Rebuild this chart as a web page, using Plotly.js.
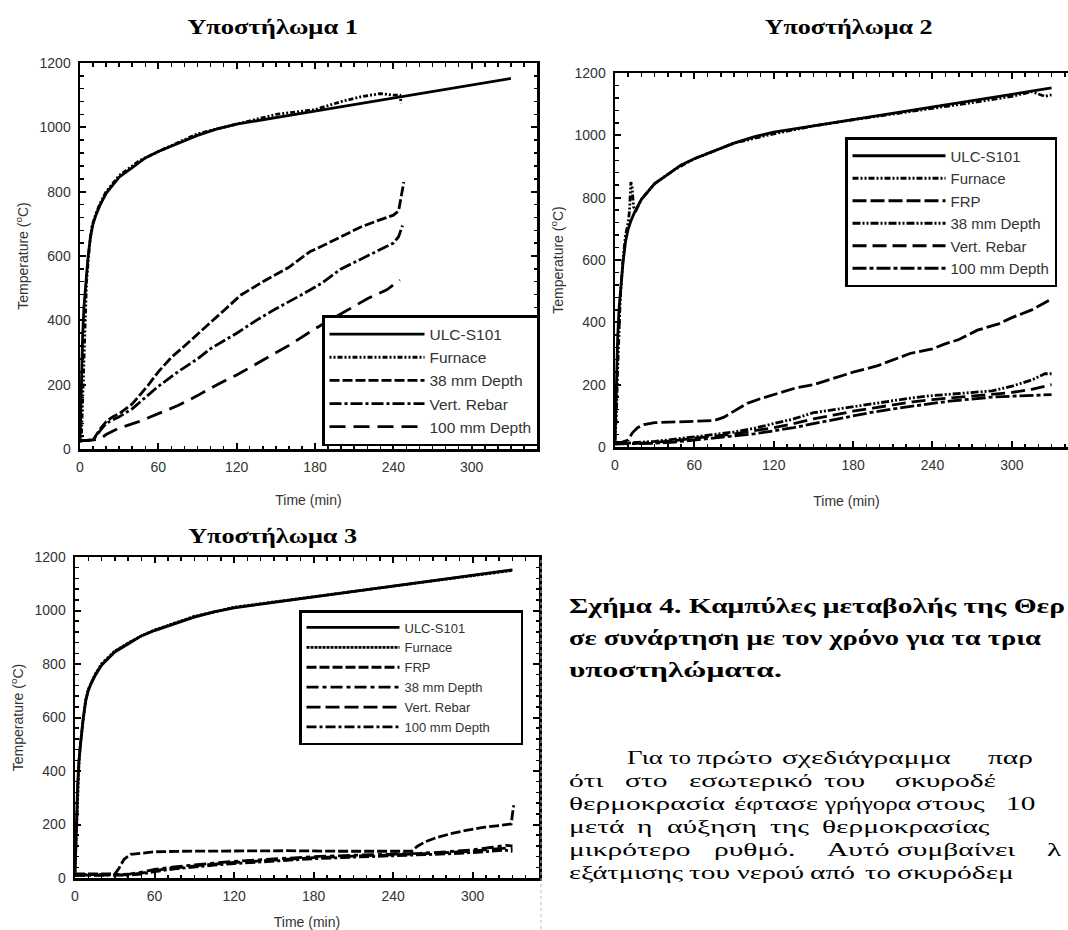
<!DOCTYPE html>
<html>
<head>
<meta charset="utf-8">
<script src="https://cdn.plot.ly/plotly-3.0.1.min.js"></script>
<style>
html,body{margin:0;padding:0;background:#fff;overflow:hidden;}
#chart{width:1085px;height:930px;}
</style>
</head>
<body>
<div id="chart"></div>
<script>
// ---------------- DATA ----------------
// Standard fire curve ULC-S101 (time in min, temperature in °C)
const ulc_t = [0, 1, 2, 3, 4, 5, 6, 8, 10, 12, 15, 20, 25, 30, 40, 50, 60, 75, 90, 105, 120, 150, 180, 210, 240, 270, 300, 330];
const ulc_v = [20, 200, 350, 440, 500, 540, 590, 660, 700, 725, 755, 795, 820, 845, 875, 905, 925, 950, 975, 995, 1010, 1030, 1050, 1070, 1090, 1110, 1130, 1152];

// Υποστήλωμα 1
const p1_fur_t = [0, 1, 2, 3, 4, 5, 7, 9, 12, 15, 20, 30, 45, 60, 90, 120, 150, 180, 200, 215, 230, 240, 245, 246];
const p1_fur_v = [25, 30, 150, 300, 420, 520, 620, 690, 730, 760, 800, 850, 895, 925, 980, 1010, 1040, 1055, 1080, 1095, 1105, 1100, 1100, 1075];
const p1_d38_t = [0, 10, 15, 20, 25, 30, 40, 52, 60, 70, 80, 97, 110, 123, 140, 160, 176, 190, 202, 215, 228, 240, 244, 246, 248];
const p1_d38_v = [25, 28, 60, 85, 100, 110, 140, 197, 240, 285, 320, 384, 430, 478, 520, 565, 613, 640, 665, 690, 710, 727, 740, 790, 830];
const p1_reb_t = [0, 10, 15, 20, 30, 40, 50, 60, 75, 90, 100, 120, 135, 150, 170, 185, 200, 215, 230, 240, 244, 247];
const p1_reb_v = [25, 28, 55, 80, 100, 125, 160, 195, 240, 280, 312, 360, 400, 436, 480, 515, 560, 590, 620, 640, 660, 695];
const p1_d100_t = [0, 15, 20, 30, 45, 60, 75, 90, 105, 120, 140, 160, 180, 200, 220, 235, 245];
const p1_d100_v = [25, 30, 45, 65, 85, 110, 135, 166, 200, 230, 275, 322, 374, 420, 467, 495, 525];

// Υποστήλωμα 2
const p2_fur_t = [0, 1, 2, 3, 4, 5, 6, 8, 10, 11, 12, 13, 14, 16, 20, 30, 45, 60, 90, 120, 150, 180, 210, 240, 270, 300, 315, 325, 330];
const p2_fur_v = [20, 100, 250, 400, 480, 540, 600, 680, 720, 760, 850, 830, 770, 760, 795, 845, 890, 925, 975, 1005, 1030, 1050, 1068, 1085, 1105, 1125, 1140, 1125, 1130];
const p2_frp_t = [0, 5, 10, 13, 17, 22, 30, 45, 60, 75, 82, 90, 100, 110, 121, 137, 150, 167, 180, 198, 210, 223, 240, 249, 260, 274, 290, 300, 315, 328];
const p2_frp_v = [15, 15, 22, 45, 62, 72, 78, 80, 82, 85, 95, 115, 140, 155, 170, 190, 200, 222, 240, 260, 280, 300, 315, 330, 345, 375, 395, 415, 440, 470];
const p2_t = [0, 10, 20, 30, 45, 60, 75, 90, 105, 120, 135, 150, 165, 180, 195, 210, 225, 240, 255, 270, 285, 300, 315, 325, 330];
const p2_d38_v = [10, 12, 15, 18, 25, 32, 40, 48, 60, 75, 90, 110, 120, 130, 140, 150, 158, 165, 170, 175, 180, 195, 215, 235, 235];
const p2_reb_v = [10, 10, 12, 15, 20, 28, 35, 42, 52, 62, 75, 90, 102, 115, 125, 135, 145, 152, 158, 163, 168, 175, 185, 195, 200];
const p2_d100_v = [10, 10, 10, 12, 16, 22, 28, 35, 42, 52, 62, 75, 88, 100, 112, 122, 132, 140, 148, 155, 160, 163, 165, 168, 168];

// Υποστήλωμα 3
const p3_fur_t = [0, 1, 2, 3, 4, 5, 6, 8, 10, 12, 15, 20, 25, 30, 40, 50, 60, 75, 90, 105, 120, 150, 180, 210, 240, 270, 300, 330];
const p3_fur_v = [20, 150, 320, 430, 500, 545, 600, 665, 705, 730, 760, 800, 825, 848, 878, 905, 927, 952, 978, 995, 1012, 1032, 1052, 1072, 1092, 1112, 1132, 1150];
const p3_frp_t = [0, 10, 20, 30, 33, 37, 42, 50, 60, 80, 120, 160, 200, 240, 254, 258, 264, 272, 283, 295, 309, 320, 329, 330, 331];
const p3_frp_v = [15, 15, 15, 15, 35, 70, 88, 92, 98, 100, 102, 102, 100, 98, 100, 118, 135, 150, 165, 178, 190, 196, 202, 240, 272];
const p3_t = [0, 20, 40, 50, 60, 75, 90, 105, 120, 150, 180, 210, 240, 260, 280, 300, 315, 325, 330];
const p3_d38_v = [12, 12, 14, 22, 32, 42, 50, 56, 62, 72, 80, 85, 88, 92, 98, 105, 115, 122, 120];
const p3_reb_v = [10, 10, 12, 18, 28, 38, 46, 52, 58, 68, 76, 82, 86, 90, 95, 100, 108, 112, 110];
const p3_d100_v = [10, 10, 11, 15, 24, 34, 42, 48, 54, 64, 72, 78, 82, 86, 90, 95, 100, 104, 100];

// Tick values
const xTicks = [0, 60, 120, 180, 240, 300];
const yTicks = [0, 200, 400, 600, 800, 1000, 1200];

// ---------------- LAYOUT HELPERS ----------------
const W = 1085, H = 930;
const px = x => x / W;
const py = y => 1 - y / H;
const NB = '\u00a0';

function tr(x, y, name, dash, ax, leg) {
  return {
    x: x, y: y, name: name, type: 'scatter', mode: 'lines',
    line: {color: '#000', width: 2.8, dash: dash},
    xaxis: 'x' + ax, yaxis: 'y' + ax, legend: leg, hoverinfo: 'skip'
  };
}

const data = [
  tr(ulc_t, ulc_v, 'ULC-S101', 'solid', '', 'legend'),
  tr(p1_fur_t, p1_fur_v, 'Furnace', '2px,2px,2px,2px,5px,2px', '', 'legend'),
  tr(p1_d38_t, p1_d38_v, '38 mm Depth', '10px,3px', '', 'legend'),
  tr(p1_reb_t, p1_reb_v, 'Vert. Rebar', '12px,3px,3px,3px', '', 'legend'),
  tr(p1_d100_t, p1_d100_v, '100 mm Depth', '16px,8px', '', 'legend'),

  tr(ulc_t, ulc_v, 'ULC-S101', 'solid', '2', 'legend2'),
  tr(p2_fur_t, p2_fur_v, 'Furnace', '6px,2px,2px,2px,2px,2px', '2', 'legend2'),
  tr(p2_frp_t, p2_frp_v, 'FRP', '14px,4px', '2', 'legend2'),
  tr(p2_t, p2_d38_v, '38 mm Depth', '8px,2px,2px,2px,2px,2px', '2', 'legend2'),
  tr(p2_t, p2_reb_v, 'Vert. Rebar', '14px,6px', '2', 'legend2'),
  tr(p2_t, p2_d100_v, '100 mm Depth', '14px,3px,4px,3px', '2', 'legend2'),

  tr(ulc_t, ulc_v, 'ULC-S101', 'solid', '3', 'legend3'),
  tr(p3_fur_t, p3_fur_v, 'Furnace', '3px,1px', '3', 'legend3'),
  tr(p3_frp_t, p3_frp_v, 'FRP', '10px,3px', '3', 'legend3'),
  tr(p3_t, p3_d38_v, '38 mm Depth', '12px,4px,4px,4px', '3', 'legend3'),
  tr(p3_t, p3_reb_v, 'Vert. Rebar', '14px,5px', '3', 'legend3'),
  tr(p3_t, p3_d100_v, '100 mm Depth' + NB.repeat(7), '10px,3px,3px,3px', '3', 'legend3')
];

const sans = 'Liberation Sans, Arial, sans-serif';
const serif = 'Liberation Serif, Times New Roman, serif';

function xax(d, anchor, standoff) {
  return {
    domain: d, anchor: anchor, range: [0, 350], tickvals: xTicks,
    showline: true, linecolor: '#000', linewidth: 2.5, mirror: 'allticks',
    ticks: 'inside', ticklen: 6, tickwidth: 2, tickcolor: '#000',
    minor: {ticks: 'inside', dtick: 10, tick0: 0, ticklen: 3.5, tickwidth: 1.5, tickcolor: '#000', showgrid: false},
    showgrid: false, zeroline: false, ticklabelstandoff: 4,
    tickfont: {family: sans, size: 14, color: '#333'},
    title: {text: 'Time (min)', font: {family: sans, size: 14, color: '#333'}, standoff: standoff}
  };
}
function yax(d, anchor) {
  return {
    domain: d, anchor: anchor, range: [0, 1200], tickvals: yTicks,
    showline: true, linecolor: '#000', linewidth: 2.5, mirror: 'allticks',
    ticks: 'inside', ticklen: 6, tickwidth: 2, tickcolor: '#000',
    minor: {ticks: 'inside', dtick: 40, tick0: 0, ticklen: 3.5, tickwidth: 1.5, tickcolor: '#000', showgrid: false},
    showgrid: false, zeroline: false, ticklabelstandoff: 4,
    tickfont: {family: sans, size: 14, color: '#333'},
    title: {text: 'Temperature (<sup>o</sup>C)', font: {family: sans, size: 14, color: '#333'}, standoff: 8}
  };
}
function leg(x, y, size, iw) {
  return {
    x: px(x), y: py(y), xanchor: 'left', yanchor: 'top', xref: 'paper', yref: 'paper',
    bgcolor: '#fff', bordercolor: '#000', borderwidth: 2.5,
    font: {family: sans, size: size, color: '#333'},
    itemwidth: iw, tracegroupgap: 0, traceorder: 'normal', itemclick: false, itemdoubleclick: false
  };
}

// text annotations; "w" = width the text takes in the reference (px), "f" = horizontal stretch factor,
// "max" = room available before the next word
const annotations = [];
const stretch = [];
function ann(x, y, text, size, bold, anchor, spec) {
  annotations.push({
    x: px(x), y: py(y), xref: 'paper', yref: 'paper', showarrow: false,
    text: text, xanchor: anchor || 'left', yanchor: 'middle', align: anchor || 'left',
    font: {family: serif, size: size, color: '#000', weight: bold ? 'bold' : 'normal'}
  });
  stretch.push(spec || null);
}

ann(272, 27, 'Υποστήλωμα 1', 21, true, 'center', {w: 171});
ann(848, 27, 'Υποστήλωμα 2', 21, true, 'center', {w: 168});
ann(272, 536, 'Υποστήλωμα 3', 21, true, 'center', {w: 169});
ann(567, 606, 'Σχήμα 4. Καμπύλες μεταβολής της Θερ', 21, true, 'left', {w: 496});
ann(567, 638, 'σε συνάρτηση με τον χρόνο για τα τρια', 21, true, 'left', {w: 472});
ann(567, 670, 'υποστηλώματα.', 21, true, 'left', {f: 1.5});

// Justified paragraph, word by word: [y, [[x, word], ...]]
const para = [
  [757, [[625, 'Για'], [667, 'το'], [695, 'πρώτο'], [780, 'σχεδιάγραμμα'], [986, 'παρ']]],
  [780, [[567, 'ότι'], [623, 'στο'], [687, 'εσωτερικό'], [822, 'του'], [893, 'σκυροδέ']]],
  [803, [[567, 'θερμοκρασία'], [732, 'έφτασε'], [822, 'γρήγορα'], [914, 'στους'], [1004, '10']]],
  [826, [[567, 'μετά'], [635, 'η'], [665, 'αύξηση'], [768, 'της'], [820, 'θερμοκρασίας']]],
  [849, [[567, 'μικρότερο'], [712, 'ρυθμό.'], [825, 'Αυτό'], [895, 'συμβαίνει'], [1045, 'λ']]],
  [872, [[567, 'εξάτμισης'], [687, 'του'], [735, 'νερού'], [808, 'από'], [863, 'το'], [895, 'σκυρόδεμ']]]
];
para.forEach(([y, words]) => words.forEach(([x, w], k) => {
  const next = k + 1 < words.length ? words[k + 1][0] - 6 : 1066;
  ann(x, y, w, 19, false, 'left', {f: 1.55, max: next - x});
}));

const layout = {
  width: W, height: H,
  margin: {l: 0, r: 0, t: 0, b: 0},
  paper_bgcolor: '#fff', plot_bgcolor: '#fff',
  showlegend: true,
  xaxis: xax([px(80), px(537)], 'y', 21),
  yaxis: yax([py(449), py(63)], 'x'),
  xaxis2: xax([px(615), px(1078)], 'y2', 24),
  yaxis2: yax([py(447), py(73)], 'x2'),
  xaxis3: xax([px(75), px(539)], 'y3', 14),
  yaxis3: yax([py(878), py(557)], 'x3'),
  legend: leg(322, 315, 15.5, 95),
  legend2: leg(845, 137, 15, 93),
  legend3: leg(299, 610, 13, 93),
  annotations: annotations,
  shapes: [
    {type: 'line', xref: 'paper', yref: 'paper', x0: px(541), x1: px(541), y0: py(560), y1: py(930),
     line: {color: '#bbb', width: 1, dash: 'dot'}}
  ]
};

Plotly.newPlot('chart', data, layout, {staticPlot: true, displayModeBar: false}).then(gd => {
  // the reference text is horizontally wider than the font: widen it
  gd.querySelectorAll('g.annotation').forEach(g => {
    const i = +g.getAttribute('data-index');
    const s = stretch[i];
    if (!s) return;
    const t = g.querySelector('text.annotation-text');
    if (!t) return;
    const natural = t.getComputedTextLength();
    let target = s.w ? s.w : natural * s.f;
    if (s.max) target = Math.max(natural, Math.min(target, s.max));
    t.setAttribute('textLength', target.toFixed(1));
    t.setAttribute('lengthAdjust', 'spacingAndGlyphs');
  });
});
</script>
</body>
</html>
